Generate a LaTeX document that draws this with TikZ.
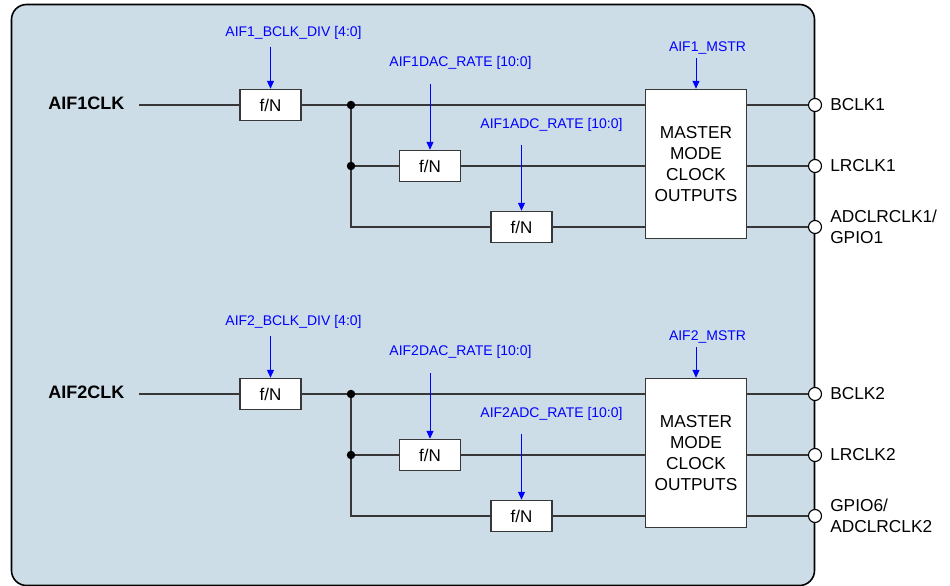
\documentclass[tikz,border=0pt]{standalone}
\usepackage{fontspec}
\setmainfont{Liberation Sans}
\usetikzlibrary{arrows.meta,positioning}
\definecolor{panelblue}{RGB}{204,221,232}
\definecolor{wiregrey}{RGB}{55,55,55}

\begin{document}
\begin{tikzpicture}[
    x=1pt, y=-1pt,
    font=\fontsize{17}{20}\selectfont,
    divbox/.style={draw=wiregrey, fill=white, line width=1.5pt, minimum width=61pt, minimum height=31pt, inner sep=0pt},
    mstrbox/.style={draw=wiregrey, fill=white, line width=1.5pt, minimum width=101pt, minimum height=149pt, align=center, inner sep=0pt, font=\fontsize{17.3}{21.3}\selectfont},
    reg/.style={text=blue, font=\fontsize{14}{16}\selectfont, inner sep=0pt},
    ctrl/.style={draw=blue, line width=1pt, -{Triangle[length=8pt, width=7pt]}},
    wireline/.style={draw=wiregrey, line width=1.3pt},
    jdot/.style={circle, fill=black, minimum size=8.5pt, inner sep=0pt},
    port/.style={circle, draw=black, fill=white, line width=1.1pt, minimum size=13pt, inner sep=0pt},
    portlabel/.style={align=left, inner sep=0pt, font=\fontsize{17.3}{20.5}\selectfont}
]
\useasboundingbox (0,0) rectangle (950,586);
\draw[line width=1.6pt, fill=panelblue, rounded corners=15pt] (11.5,4.5) rectangle (814.5,585.5);

\foreach \n/\o/\lastpin in {1/0/{ADCLRCLK1/\\GPIO1}, 2/289/{GPIO6/\\ADCLRCLK2}} {
  % clock input and dividers
  \node[font=\fontsize{18}{20}\selectfont\bfseries, anchor=east, inner sep=0pt] (clk\n) at (124.5,103+\o) {AIF\n CLK};
  \coordinate (in\n) at (139,105+\o);
  \node[divbox] (div\n) at (270.5,105+\o) {f/N};
  \node[divbox] (dac\n) at (430,166+\o) {f/N};
  \node[divbox] (adc\n) at (521.5,227+\o) {f/N};
  \node[mstrbox] (ms\n) at (696,164+\o) {MASTER\\MODE\\CLOCK\\OUTPUTS};

  % wires
  \coordinate (ja\n) at (351,105+\o);
  \coordinate (jb\n) at (351,166+\o);
  \coordinate (jc\n) at (351,227+\o);
  \coordinate (pa\n) at (815,105+\o);
  \coordinate (pb\n) at (815,166+\o);
  \coordinate (pc\n) at (815,227+\o);
  \draw[wireline] (in\n) -- (div\n.west);
  \draw[wireline] (div\n.east) -- (ja\n) -- (ja\n -| ms\n.west);
  \draw[wireline] (ja\n) -- (jc\n) -- (adc\n.west);
  \draw[wireline] (jb\n) -- (dac\n.west);
  \draw[wireline] (dac\n.east) -- (dac\n.east -| ms\n.west);
  \draw[wireline] (adc\n.east) -- (adc\n.east -| ms\n.west);
  \foreach \p in {pa,pb,pc}
    \draw[wireline] (\p\n -| ms\n.east) -- (\p\n);
  \node[jdot] at (ja\n) {};
  \node[jdot] at (jb\n) {};

  % output pins
  \node[port] (pina\n) at (pa\n) {};
  \node[port] (pinb\n) at (pb\n) {};
  \node[port] (pinc\n) at (pc\n) {};
  \node[portlabel, right=8pt of pina\n] {BCLK\n};
  \node[portlabel, right=8pt of pinb\n] {LRCLK\n};
  \node[portlabel, right=8pt of pinc\n] {\lastpin};

  % register controls
  \node[reg] (bclkdiv\n) at (293.5,33+\o) {AIF\n\_BCLK\_DIV [4:0]};
  \node[reg] (dacrate\n) at (460.5,63+\o) {AIF\n DAC\_RATE [10:0]};
  \node[reg] (adcrate\n) at (551.5,125+\o) {AIF\n ADC\_RATE [10:0]};
  \node[reg] (mstr\n) at (707.5,48+\o) {AIF\n\_MSTR};
  \coordinate[above=42pt of div\n.north] (tdiv\n);
  \coordinate[above=66pt of dac\n.north] (tdac\n);
  \coordinate[above=66pt of adc\n.north] (tadc\n);
  \coordinate[above=30.5pt of ms\n.north] (tms\n);
  \foreach \a/\b in {tdiv/div, tdac/dac, tadc/adc, tms/ms}
    \draw[ctrl] (\a\n) -- (\b\n.north);
}
\end{tikzpicture}
\end{document}
